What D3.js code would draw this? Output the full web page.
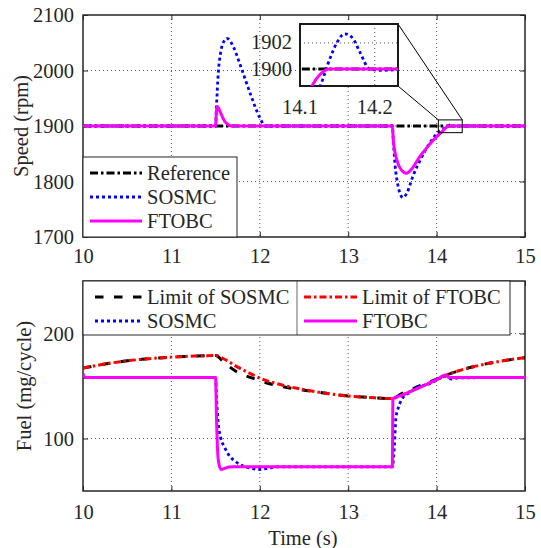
<!DOCTYPE html>
<html lang="en">
<head>
<meta charset="UTF-8">
<title>Speed and fuel response</title>
<script src="https://cdn.jsdelivr.net/npm/d3@7"></script>
<style>
  body { margin: 0; background: #fff; }
  svg text { font-family: "Liberation Serif", "DejaVu Serif", serif; font-size: 20.5px; fill: #262626; }
</style>
</head>
<body>
<svg id="chart" width="541" height="548"></svg>
<script>
// ---- data ----
const xTicks = [10, 11, 12, 13, 14, 15];
const speedTicks = [1700, 1800, 1900, 2000, 2100];
const fuelTicks = [100, 200];
const insetXTicks = [14.1, 14.2];
const insetYTicks = [1900, 1902];

// speed (rpm)
const refT = [10, 15];
const refV = [1900, 1900];
const sosmcSpeedT = [10, 11.5, 11.51, 11.53, 11.56, 11.6, 11.625, 11.65, 11.7, 11.8, 11.9, 12.0, 12.06, 12.1,
  13.5, 13.51, 13.53, 13.56, 13.59, 13.62, 13.66, 13.74, 13.82, 13.89, 13.96, 14.04, 14.1, 14.127, 14.14,
  14.15, 14.16, 14.17, 14.18, 14.193, 14.21, 14.25, 15];
const sosmcSpeedV = [1900, 1900, 1935, 1995, 2035, 2054, 2058, 2056, 2043, 2000, 1955, 1915, 1900, 1900,
  1900, 1875, 1830, 1795, 1777, 1771, 1778, 1813, 1840, 1861, 1878, 1892, 1896.5, 1898.7, 1900.8,
  1902.1, 1902.7, 1902.4, 1901.3, 1900, 1899.9, 1900, 1900];
const ftobcSpeedT = [10, 11.5, 11.51, 11.52, 11.55, 11.6, 11.65, 11.68, 13.5, 13.51, 13.55, 13.6, 13.66, 13.72,
  13.81, 13.9, 14.0, 14.05, 14.1, 14.116, 14.127, 14.14, 14.16, 15];
const ftobcSpeedV = [1900, 1900, 1928, 1935, 1926, 1909, 1901.5, 1900, 1900, 1875, 1839, 1821, 1815, 1823,
  1845, 1863, 1881, 1888, 1896, 1898.7, 1899.6, 1900, 1900, 1900];

// fuel (mg/cycle)
const limitT = [10, 10.25, 10.5, 10.75, 11, 11.25, 11.5, 11.6, 11.75, 11.9, 12, 12.25, 12.5, 12.75, 13,
  13.25, 13.5, 13.6, 13.75, 14, 14.1, 14.25, 14.5, 14.75, 15];
const limitFtobcV = [167, 171, 174, 176, 177.5, 178.5, 179, 175.5, 168, 161.5, 157.5, 151, 146.5, 143, 140.5,
  139, 138, 141, 146.5, 156, 160, 164.5, 170, 174, 177];
const limitSosmcV = [167, 171, 174, 176, 177.5, 178.5, 179, 172, 163, 158, 155, 149.5, 146, 143, 140.5,
  139, 138, 142.5, 148, 156.5, 160, 164.5, 170, 174, 177];
const sosmcFuelT = [10, 11.5, 11.51, 11.53, 11.56, 11.6, 11.66, 11.72, 11.78, 11.88, 12.0, 12.1, 12.2,
  13.5, 13.52, 13.54, 13.57, 13.62, 13.7, 13.8, 13.9, 14.0, 14.1, 14.13, 14.17, 14.25, 15];
const sosmcFuelV = [158, 158, 140, 115, 100, 92, 83, 78.5, 75, 72, 70.5, 71.8, 73,
  73, 90, 120, 130, 139, 144, 149.5, 151.5, 155.5, 159.5, 158, 156.5, 157.8, 158];
const ftobcFuelT = [10, 10.02, 11.5, 11.51, 11.53, 11.56, 11.6, 11.65, 11.7, 13.5, 13.505, 13.6, 13.75,
  14.0, 14.1, 14.14, 14.2, 15];
const ftobcFuelV = [162, 158, 158, 120, 80, 70.5, 71.5, 72.8, 73, 73, 138, 141, 146.5,
  156, 160.5, 158, 158, 158];

// inset window and the box it magnifies
const insetTRange = [14.1, 14.231];
const insetVRange = [1898.7, 1903.45];
const zoomBoxT = [14.02, 14.29];
const zoomBoxV = [1888, 1911];

// ---- setup ----
const width = 541, height = 548;
const FONT = '"Liberation Serif", "DejaVu Serif", serif';
const svg = d3.select("#chart").attr("font-family", FONT);
svg.append("rect").attr("width", width).attr("height", height).attr("fill", "white");

const x = d3.scaleLinear().domain([10, 15]).range([83, 525]);
const ySpeed = d3.scaleLinear().domain([1700, 2100]).range([237, 15]);
const yFuel = d3.scaleLinear().domain([50, 250]).range([491, 281]);

const styles = {
  ref:   { color: "#000000", w: 3,   dash: "8,3,2.5,3" },
  sosmc: { color: "#0000ff", w: 2.8, dash: "3,3" },
  ftobc: { color: "#ff00ff", w: 3,   dash: null },
  limS:  { color: "#000000", w: 3,   dash: "8.5,10.5" },
  limF:  { color: "#ff0000", w: 3,   dash: "7,3,2.5,3" }
};

function label(g) {
  return g.append("text").style("font-family", FONT).style("font-size", "20.5px");
}

function drawLine(g, xs, ys, t, v, st) {
  const gen = d3.line().x(d => xs(d[0])).y(d => ys(d[1])).curve(d3.curveMonotoneX);
  g.append("path")
    .attr("d", gen(d3.zip(t, v)))
    .attr("fill", "none")
    .attr("stroke", st.color)
    .attr("stroke-width", st.w)
    .attr("stroke-dasharray", st.dash)
    .attr("stroke-linejoin", "round");
}

function grid(g, xs, ys, xv, yv) {
  const [x0, x1] = xs.range(), [y1, y0] = ys.range();
  xv.forEach(d => g.append("line").attr("x1", xs(d)).attr("x2", xs(d)).attr("y1", y0).attr("y2", y1)
    .attr("stroke", "#444").attr("stroke-width", 0.9).attr("stroke-dasharray", "1,3"));
  yv.forEach(d => g.append("line").attr("x1", x0).attr("x2", x1).attr("y1", ys(d)).attr("y2", ys(d))
    .attr("stroke", "#444").attr("stroke-width", 0.9).attr("stroke-dasharray", "1,3"));
}

function axes(g, xs, ys, yTicks, xPad, tick) {
  const [x0, x1] = xs.range(), [y1, y0] = ys.range();
  const clean = a => {
    a.attr("font-family", FONT).attr("font-size", 20.5);
    a.select(".domain").remove();
    a.selectAll("text").style("font-family", FONT).style("font-size", "20.5px").attr("fill", "#262626");
    a.selectAll(".tick line").attr("stroke", "#262626");
  };
  g.append("g").attr("transform", `translate(0,${y1})`)
    .call(d3.axisBottom(xs).tickValues(xTicks).tickSize(-tick).tickPadding(xPad).tickFormat(d3.format("d"))).call(clean);
  g.append("g").attr("transform", `translate(0,${y0})`)
    .call(d3.axisTop(xs).tickValues(xTicks).tickSize(-tick).tickFormat("")).call(clean);
  g.append("g").attr("transform", `translate(${x0},0)`)
    .call(d3.axisLeft(ys).tickValues(yTicks).tickSize(-tick).tickPadding(9).tickFormat(d3.format("d"))).call(clean);
  g.append("g").attr("transform", `translate(${x1},0)`)
    .call(d3.axisRight(ys).tickValues(yTicks).tickSize(-tick).tickFormat("")).call(clean);
  g.append("rect").attr("x", x0).attr("y", y0).attr("width", x1 - x0).attr("height", y1 - y0)
    .attr("fill", "none").attr("stroke", "#262626").attr("stroke-width", 1.5);
}

function clip(id, xs, ys) {
  const [x0, x1] = xs.range(), [y1, y0] = ys.range();
  svg.append("clipPath").attr("id", id).append("rect")
    .attr("x", x0).attr("y", y0).attr("width", x1 - x0).attr("height", y1 - y0);
  return svg.append("g").attr("clip-path", `url(#${id})`);
}

function legendItem(g, x0, x1, y, text, st) {
  g.append("line").attr("x1", x0).attr("x2", x1).attr("y1", y).attr("y2", y)
    .attr("stroke", st.color).attr("stroke-width", st.w).attr("stroke-dasharray", st.dash);
  label(g).attr("x", x1 + 5).attr("y", y).attr("dy", "0.33em").attr("fill", "#000").text(text);
}

// ---- top panel: speed ----
const speedPanel = svg.append("g");
grid(speedPanel, x, ySpeed, xTicks.slice(1, -1), speedTicks.slice(1, -1));
axes(speedPanel, x, ySpeed, speedTicks, 11, 5);
const speedData = clip("clipTop", x, ySpeed);
drawLine(speedData, x, ySpeed, refT, refV, styles.ref);
drawLine(speedData, x, ySpeed, sosmcSpeedT, sosmcSpeedV, styles.sosmc);
drawLine(speedData, x, ySpeed, ftobcSpeedT, ftobcSpeedV, styles.ftobc);

label(svg).attr("transform", `translate(28,${(15 + 237) / 2}) rotate(-90)`)
  .attr("text-anchor", "middle").text("Speed (rpm)");

// legend
const legTop = svg.append("g");
legTop.append("rect").attr("x", 83).attr("y", 157).attr("width", 154).attr("height", 80)
  .attr("fill", "white").attr("stroke", "#262626").attr("stroke-width", 1);
legendItem(legTop, 90, 142, 173, "Reference", styles.ref);
legendItem(legTop, 90, 142, 197, "SOSMC", styles.sosmc);
legendItem(legTop, 90, 142, 221, "FTOBC", styles.ftobc);

// zoom box and connectors
const bx0 = x(zoomBoxT[0]), bx1 = x(zoomBoxT[1]), by0 = ySpeed(zoomBoxV[1]), by1 = ySpeed(zoomBoxV[0]);
svg.append("rect").attr("x", bx0).attr("y", by0).attr("width", bx1 - bx0).attr("height", by1 - by0)
  .attr("fill", "none").attr("stroke", "#000").attr("stroke-width", 1);

// inset
const xIn = d3.scaleLinear().domain(insetTRange).range([300, 398]);
const yIn = d3.scaleLinear().domain(insetVRange).range([86, 24]);
svg.append("line").attr("x1", 398).attr("y1", 24).attr("x2", bx1).attr("y2", by0).attr("stroke", "#000").attr("stroke-width", 1);
svg.append("line").attr("x1", 398).attr("y1", 86).attr("x2", bx0).attr("y2", by0).attr("stroke", "#000").attr("stroke-width", 1);

const inset = svg.append("g");
inset.append("rect").attr("x", 300).attr("y", 24).attr("width", 98).attr("height", 62).attr("fill", "white");
grid(inset, xIn, yIn, [insetXTicks[1]], insetYTicks);
const insetData = clip("clipInset", xIn, yIn);
drawLine(insetData, xIn, yIn, refT, refV, styles.ref);
drawLine(insetData, xIn, yIn, sosmcSpeedT, sosmcSpeedV, styles.sosmc);
drawLine(insetData, xIn, yIn, ftobcSpeedT, ftobcSpeedV, styles.ftobc);
inset.append("rect").attr("x", 300).attr("y", 24).attr("width", 98).attr("height", 62)
  .attr("fill", "none").attr("stroke", "#1a1a1a").attr("stroke-width", 2);
insetXTicks.forEach(d => label(svg).attr("x", xIn(d)).attr("y", 86 + 13).attr("dy", "0.71em")
  .attr("text-anchor", "middle").text(d.toFixed(1)));
insetYTicks.forEach(d => label(svg).attr("x", 292).attr("y", yIn(d)).attr("dy", "0.32em")
  .attr("text-anchor", "end").text(d));

// ---- bottom panel: fuel ----
const fuelPanel = svg.append("g");
grid(fuelPanel, x, yFuel, xTicks.slice(1, -1), fuelTicks);
axes(fuelPanel, x, yFuel, fuelTicks, 13, 5);
const fuelData = clip("clipBot", x, yFuel);
drawLine(fuelData, x, yFuel, limitT, limitSosmcV, styles.limS);
drawLine(fuelData, x, yFuel, limitT, limitFtobcV, styles.limF);
drawLine(fuelData, x, yFuel, sosmcFuelT, sosmcFuelV, styles.sosmc);
drawLine(fuelData, x, yFuel, ftobcFuelT, ftobcFuelV, styles.ftobc);

label(svg).attr("transform", `translate(31,${(281 + 491) / 2}) rotate(-90)`)
  .attr("text-anchor", "middle").text("Fuel (mg/cycle)");
label(svg).attr("x", 303).attr("y", 545).attr("text-anchor", "middle").text("Time (s)");

const legBot = svg.append("g");
legBot.append("rect").attr("x", 83).attr("y", 281).attr("width", 427).attr("height", 54)
  .attr("fill", "white").attr("stroke", "#262626").attr("stroke-width", 1);
legBot.append("line").attr("x1", 297).attr("x2", 297).attr("y1", 281).attr("y2", 335)
  .attr("stroke", "#262626").attr("stroke-width", 0.7);
legendItem(legBot, 95, 142, 297, "Limit of SOSMC", styles.limS);
legendItem(legBot, 95, 142, 321, "SOSMC", styles.sosmc);
legendItem(legBot, 304, 357, 297, "Limit of FTOBC", styles.limF);
legendItem(legBot, 304, 357, 321, "FTOBC", styles.ftobc);
</script>
</body>
</html>
